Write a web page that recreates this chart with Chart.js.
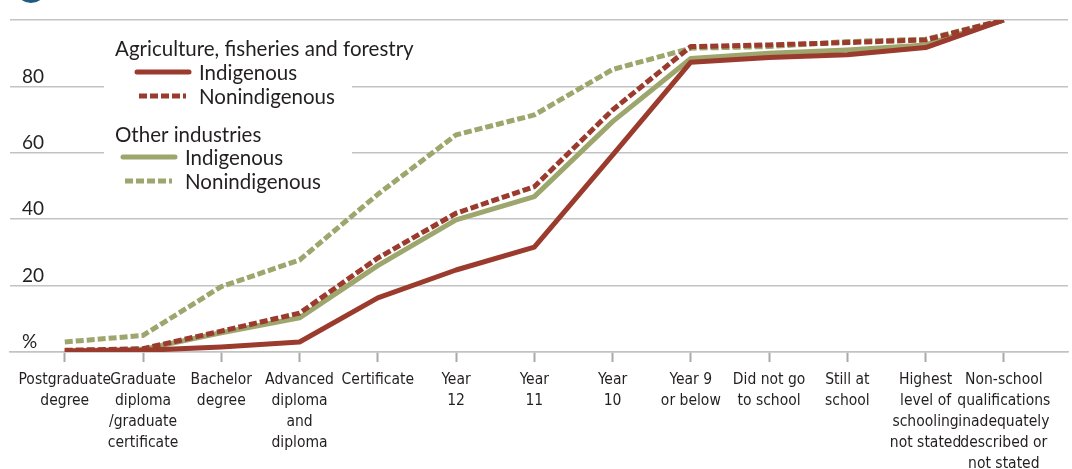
<!DOCTYPE html>
<html>
<head>
<meta charset="utf-8">
<script src="https://cdn.jsdelivr.net/npm/chart.js@4.4.1/dist/chart.umd.min.js"></script>
<style>
  html, body { margin: 0; padding: 0; background: #fff; }
  #wrap { width: 1072px; height: 469px; position: relative; }
</style>
</head>
<body>
<div id="wrap"><canvas id="schoolChart"></canvas></div>
<script>
// categories (x axis, one array per label so it can wrap)
const categories = [
    ['Postgraduate', 'degree'],
    ['Graduate', 'diploma', '/graduate', 'certificate'],
    ['Bachelor', 'degree'],
    ['Advanced', 'diploma', 'and', 'diploma'],
    ['Certificate'],
    ['Year', '12'],
    ['Year', '11'],
    ['Year', '10'],
    ['Year 9', 'or below'],
    ['Did not go', 'to school'],
    ['Still at', 'school'],
    ['Highest', 'level of', 'schooling', 'not stated'],
    ['Non-school', 'qualifications', 'inadequately', 'described or', 'not stated']
];

// cumulative %
const agriIndigenous    = [0.3, 0.5, 1.5, 3, 16.3, 24.7, 31.6, 59.3, 87.3, 88.7, 89.5, 91.7, 100];
const agriNonindigenous = [0.5, 1, 6.3, 11.7, 28.3, 41.8, 49.8, 72.9, 92, 92.5, 93.2, 94, 100];
const otherIndigenous   = [0.3, 0.8, 5.8, 10.3, 26, 39.8, 46.8, 69.4, 88.4, 90, 91, 92.5, 100];
const otherNonindigenous= [3, 5, 19.7, 27.7, 47.5, 65.4, 71.4, 85.1, 91.5, 92, 93.5, 94.2, 100];

const yTicks = [0, 20, 40, 60, 80, 100];

const RED = '#9b3b2e';
const OLIVE = '#9da66c';
const TEXT = '#231f20';
const GRID = '#c3c3c3';
const legendFont = "'Lato', 'Noto Sans', sans-serif";
const tickFont = "'DejaVu Sans Condensed', 'Liberation Sans Narrow', sans-serif";

function pts(arr) {
    return arr.map((v, i) => ({x: i, y: v}));
}

function ds(label, data, color, dashed) {
    return {
        label: label,
        data: pts(data),
        borderColor: color,
        backgroundColor: color,
        borderWidth: 5,
        borderDash: dashed ? [8, 3] : [],
        borderCapStyle: 'butt',
        borderJoinStyle: 'round',
        pointRadius: 0,
        tension: 0,
        fill: false
    };
}

// legend drawn over the plot, with a white box that hides the gridlines
const boxLegend = {
    id: 'boxLegend',
    beforeDatasetsDraw(chart) {
        const c = chart.ctx;
        const sets = chart.data.datasets;
        c.save();
        c.fillStyle = '#fff';
        c.fillRect(104, 60, 248, 130);

        c.fillStyle = TEXT;
        c.textBaseline = 'middle';
        c.textAlign = 'left';
        c.font = '20.5px ' + legendFont;
        c.fillText('Agriculture, fisheries and forestry', 115, 49);
        c.fillText('Other industries', 115, 135);

        const rows = [
            {set: sets[0], x0: 137, x1: 189, y: 72, tx: 199, text: 'Indigenous'},
            {set: sets[1], x0: 139, x1: 186, y: 96, tx: 199, text: 'Nonindigenous'},
            {set: sets[2], x0: 123, x1: 175, y: 157, tx: 185, text: 'Indigenous'},
            {set: sets[3], x0: 125, x1: 172, y: 181, tx: 185, text: 'Nonindigenous'}
        ];
        rows.forEach(r => {
            c.beginPath();
            c.strokeStyle = r.set.borderColor;
            c.lineWidth = 5;
            c.setLineDash(r.set.borderDash);
            c.lineCap = r.set.borderDash.length ? 'butt' : 'round';
            c.moveTo(r.x0, r.y);
            c.lineTo(r.x1, r.y);
            c.stroke();
            c.setLineDash([]);
            c.fillStyle = TEXT;
            c.fillText(r.text, r.tx, r.y + 1);
        });

        // bit of the panel marker poking in at the top left
        c.beginPath();
        c.fillStyle = '#1f5a85';
        c.arc(31, -13, 16, 0, Math.PI * 2);
        c.fill();
        c.restore();
    }
};

const ctx = document.getElementById('schoolChart').getContext('2d');

new Chart(ctx, {
    type: 'line',
    data: {
        datasets: [
            ds('Agriculture Indigenous', agriIndigenous, RED, false),
            ds('Agriculture Nonindigenous', agriNonindigenous, RED, true),
            ds('Other Indigenous', otherIndigenous, OLIVE, false),
            ds('Other Nonindigenous', otherNonindigenous, OLIVE, true)
        ]
    },
    options: {
        responsive: true,
        maintainAspectRatio: false,
        animation: false,
        layout: {
            padding: {top: 20, left: 10, right: 4, bottom: 0}
        },
        plugins: {
            legend: {display: false},
            tooltip: {enabled: false}
        },
        scales: {
            x: {
                type: 'linear',
                min: -0.7,
                max: 12.82,
                afterBuildTicks: function (scale) {
                    scale.ticks = categories.map((_, i) => ({value: i}));
                },
                afterFit: function (scale) {
                    scale.height = 117;
                    scale.paddingLeft = 0;
                    scale.paddingRight = 0;
                },
                grid: {
                    drawOnChartArea: false,
                    drawTicks: true,
                    tickLength: 10,
                    tickWidth: 2,
                    tickColor: '#a9a9ad'
                },
                border: {display: true, color: GRID, width: 1.5},
                ticks: {
                    autoSkip: false,
                    maxRotation: 0,
                    minRotation: 0,
                    padding: 7,
                    color: TEXT,
                    font: {family: tickFont, size: 15.5, lineHeight: 1.36},
                    callback: function (value) {
                        return categories[value];
                    }
                }
            },
            y: {
                min: 0,
                max: 100,
                afterBuildTicks: function (scale) {
                    scale.ticks = yTicks.map(v => ({value: v}));
                },
                afterFit: function (scale) {
                    scale.width = 0;
                    scale.paddingTop = 0;
                    scale.paddingBottom = 0;
                },
                grid: {
                    color: GRID,
                    lineWidth: 1.5,
                    drawTicks: false
                },
                border: {display: false},
                ticks: {
                    mirror: true,
                    padding: 12,
                    labelOffset: -10,
                    color: TEXT,
                    font: {family: legendFont, size: 19},
                    callback: function (value) {
                        if (value === 0) return '%';
                        if (value === 100) return '';
                        return value;
                    }
                }
            }
        }
    },
    plugins: [boxLegend]
});
</script>
</body>
</html>
